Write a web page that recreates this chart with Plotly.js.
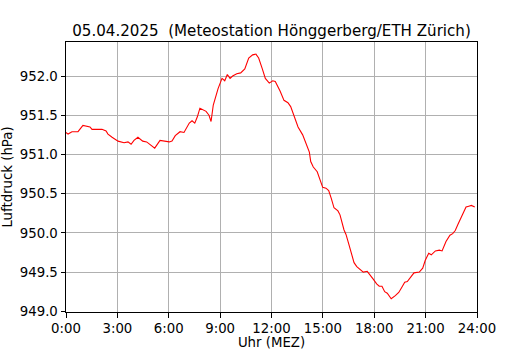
<!DOCTYPE html>
<html>
<head>
<meta charset="utf-8">
<script src="https://cdn.plot.ly/plotly-3.0.1.min.js"></script>
<style>html,body{margin:0;padding:0;background:#fff;}#chart{width:530px;height:350px;}</style>
</head>
<body>
<div id="chart"></div>
<script>
const hours = [0.00,0.12,0.35,0.70,0.99,1.40,1.52,2.10,2.34,2.45,2.69,3.04,3.39,3.62,3.80,3.97,4.20,4.48,4.71,4.96,5.18,5.49,5.72,6.03,6.19,6.38,6.66,6.89,7.20,7.36,7.52,7.67,7.82,8.02,8.18,8.35,8.47,8.60,8.88,9.11,9.27,9.42,9.58,9.73,9.97,10.20,10.44,10.67,10.90,11.09,11.25,11.45,11.64,11.87,12.07,12.22,12.50,12.73,12.96,13.12,13.35,13.55,13.82,14.06,14.21,14.29,14.44,14.67,14.83,14.99,15.18,15.34,15.49,15.65,15.88,16.00,16.23,16.35,16.51,16.66,16.82,16.98,17.21,17.36,17.59,17.75,17.94,18.14,18.29,18.45,18.61,18.76,18.99,19.23,19.43,19.62,19.78,19.93,20.13,20.32,20.63,20.83,20.98,21.18,21.33,21.57,21.80,21.96,22.19,22.42,22.58,22.73,22.89,23.12,23.36,23.52,23.67,23.87];
const pressure = [951.28,951.26,951.29,951.29,951.37,951.35,951.32,951.32,951.30,951.26,951.22,951.17,951.15,951.16,951.13,951.18,951.22,951.17,951.16,951.12,951.08,951.18,951.17,951.16,951.17,951.24,951.29,951.28,951.40,951.43,951.40,951.48,951.59,951.57,951.55,951.50,951.42,951.63,951.84,951.97,951.94,952.02,951.97,952.00,952.03,952.04,952.09,952.23,952.27,952.28,952.23,952.10,951.97,951.91,951.94,951.93,951.81,951.69,951.66,951.61,951.48,951.35,951.25,951.10,951.03,950.91,950.84,950.78,950.67,950.58,950.57,950.54,950.44,950.32,950.28,950.23,950.04,949.98,949.86,949.74,949.62,949.57,949.52,949.50,949.51,949.47,949.41,949.35,949.32,949.32,949.25,949.23,949.16,949.20,949.24,949.31,949.37,949.38,949.43,949.49,949.50,949.55,949.65,949.74,949.72,949.77,949.78,949.77,949.89,949.97,949.99,950.03,950.11,950.22,950.33,950.34,950.35,950.33,950.34];
const xTickVals = [0,3,6,9,12,15,18,21,24];
const xTickText = ["0:00","3:00","6:00","9:00","12:00","15:00","18:00","21:00","24:00"];
const yTickVals = [949.0,949.5,950.0,950.5,951.0,951.5,952.0];
const titleText = "05.04.2025\u00a0\u00a0(Meteostation Hönggerberg/ETH Zürich)";

const font = {family: "DejaVu Sans, sans-serif", size: 13.3, color: "#000"};
const axisCommon = {
  showline: true, linecolor: "#000", linewidth: 1, mirror: true,
  showgrid: true, gridcolor: "#b0b0b0", gridwidth: 1,
  ticks: "outside", ticklen: 4.5, tickwidth: 1, tickcolor: "#000",
  zeroline: false, tickfont: font
};
Plotly.newPlot("chart", [{
  x: hours, y: pressure, type: "scatter", mode: "lines",
  line: {color: "#ff0000", width: 1.1}, hoverinfo: "skip"
}], {
  width: 530, height: 350,
  margin: {l: 66, r: 53, t: 42, b: 38},
  paper_bgcolor: "#fff", plot_bgcolor: "#fff",
  font: font, showlegend: false,
  title: {text: titleText, font: {family: "DejaVu Sans, sans-serif", size: 15.1, color: "#000"}, x: 0.5, xanchor: "center", xref: "paper", y: 1, yref: "paper", yanchor: "bottom", pad: {b: 6}},
  xaxis: Object.assign({}, axisCommon, {range: [0, 24], tickvals: xTickVals, ticktext: xTickText,
    title: {text: "Uhr (MEZ)", font: font, standoff: 4}}),
  yaxis: Object.assign({}, axisCommon, {range: [948.991, 952.434], tickvals: yTickVals, tickformat: ".1f",
    title: {text: "Luftdruck (hPa)", font: font, standoff: 6}})
}, {staticPlot: true, displayModeBar: false});
</script>
</body>
</html>
